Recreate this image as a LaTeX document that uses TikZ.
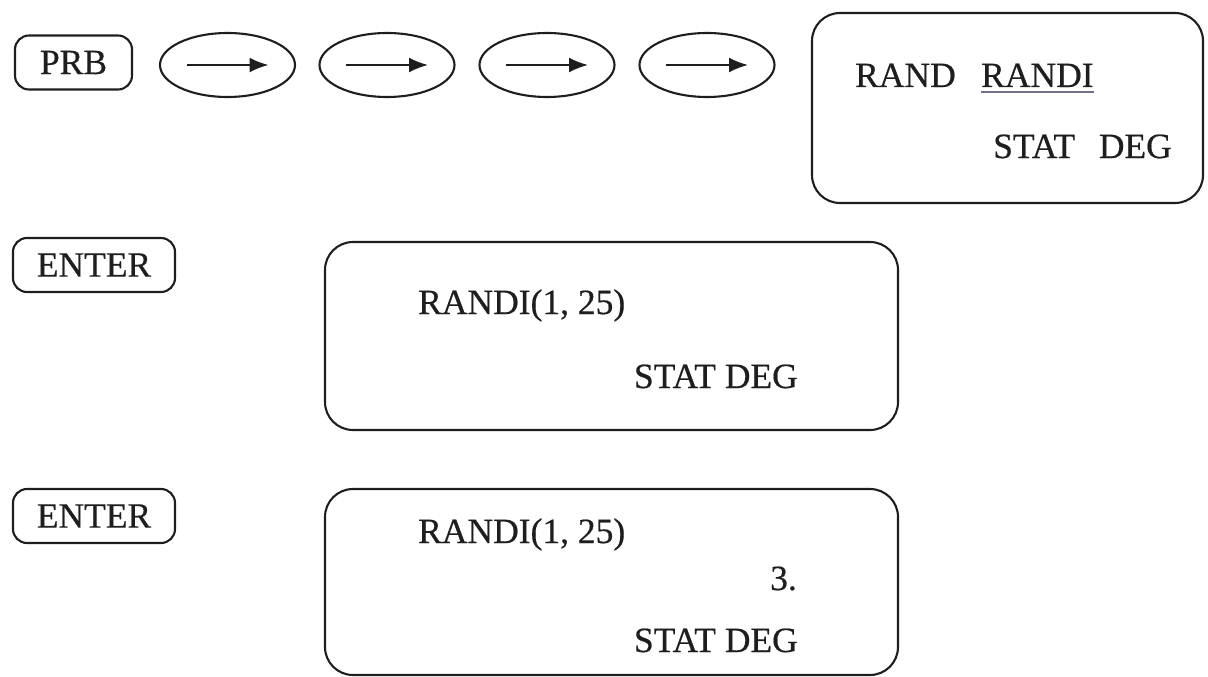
\documentclass[tikz,border=0pt]{standalone}
\usepackage{fontspec}
\setmainfont{Liberation Serif}
\newfontfamily\scanfont{Liberation Serif}[FakeBold=0.5]
\usetikzlibrary{shapes.geometric,arrows.meta}
\definecolor{ink}{HTML}{1E1E1E}
\definecolor{ulcol}{HTML}{75708F}
\tikzset{
  keybox/.style={draw=ink, line width=2.1pt, rounded corners=14pt, minimum height=54pt, inner sep=0pt, font=\scanfont\fontsize{35.5}{42}\selectfont, text=ink},
  oval/.style={draw=ink, line width=2.1pt, ellipse, minimum width=135pt, minimum height=64pt, inner sep=0pt},
  screen/.style={draw=ink, line width=2.1pt, rounded corners=28pt, inner sep=0pt},
  txt/.style={inner sep=0pt, font=\scanfont\fontsize{35.5}{42}\selectfont, text=ink},
  harrow/.style={line width=2pt, draw=ink, -{Latex[length=19pt,width=15pt]}}
}
\begin{document}
\begin{tikzpicture}[x=1pt,y=-1pt]
\useasboundingbox (0,0) rectangle (1208,677);
% keys
\node[keybox, minimum width=117pt] (prb) at (73.5,62.5) {PRB};
\node[oval] (e1) at (227.5,65) {};
\node[oval] (e2) at (387,65) {};
\node[oval] (e3) at (547,65) {};
\node[oval] (e4) at (707,65) {};
\foreach \e in {e1,e2,e3,e4}{
  \coordinate (\e a) at ([xshift=-41pt]\e.center);
  \coordinate (\e b) at ([xshift=41pt]\e.center);
  \draw[harrow] (\e a) -- (\e b);
}
\node[keybox, minimum width=162pt] (enter1) at (94,265) {ENTER};
\node[keybox, minimum width=162pt] (enter2) at (94,516) {ENTER};
% screens
\node[screen, minimum width=391pt, minimum height=190pt] (s1) at (1007.5,108) {};
\node[screen, minimum width=573pt, minimum height=188pt] (s2) at (611.5,336) {};
\node[screen, minimum width=573pt, minimum height=186pt] (s3) at (611.5,582) {};
% screen 1 text
\node[txt, anchor=base west] (rand) at (855,87) {RAND};
\node[txt, anchor=base west] (randi) at (981,87) {RANDI};
\draw[ulcol, line width=1.8pt] ([yshift=-5pt]randi.base west) -- ([yshift=-5pt]randi.base east);
\node[txt, anchor=base west] (stat1) at (993,158) {STAT};
\node[txt, anchor=base east] (deg1) at (1172,158) {DEG};
% screen 2 text
\node[txt, anchor=base west] (fn2) at (418,314) {RANDI(1, 25)};
\node[txt, anchor=base east] (sd2) at (798,388) {STAT DEG};
% screen 3 text
\node[txt, anchor=base west] (fn3) at (418,543) {RANDI(1, 25)};
\node[txt, anchor=base east] (res3) at (797,590) {3.};
\node[txt, anchor=base east] (sd3) at (798,652) {STAT DEG};
\end{tikzpicture}
\end{document}
